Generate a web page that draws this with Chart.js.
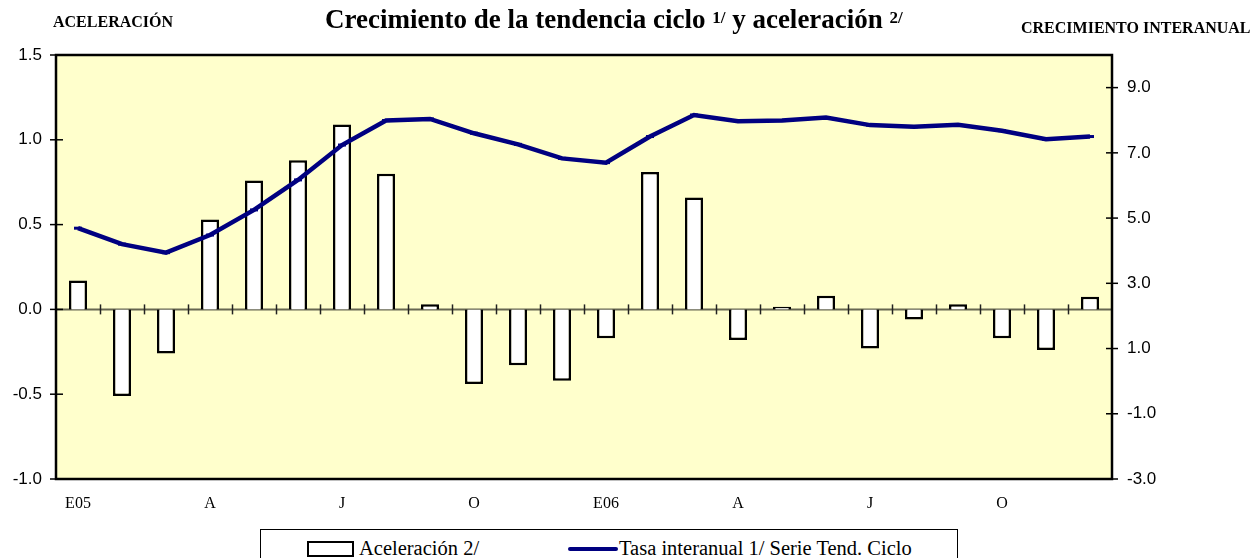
<!DOCTYPE html>
<html lang="es">
<head>
<meta charset="UTF-8">
<title>Crecimiento de la tendencia ciclo y aceleración</title>
<script src="https://cdn.jsdelivr.net/npm/chart.js"></script>
<style>
    body { margin: 0; background: #fff; }
    #wrap { position: relative; width: 1251px; height: 558px; overflow: hidden; font-family: "Liberation Serif", "Times New Roman", serif; }
    #grafico { position: absolute; left: 0; top: 0; }
    .lbl { position: absolute; white-space: nowrap; font-weight: bold; line-height: 1; color: #000; }
    #titulo { left: 325px; top: 6px; font-size: 27px; }
    #titulo sup { font-size: 17px; position: relative; top: -5px; vertical-align: baseline; }
    #ejeIzq { left: 53px; top: 14px; font-size: 16px; }
    #ejeDer { left: 1021px; top: 20px; font-size: 16px; }
    #leyenda { position: absolute; left: 260px; top: 529px; width: 696px; height: 45px; border: 1px solid #000; background: #fff; font-size: 20.5px; }
    .item { position: absolute; top: 8px; line-height: 1; white-space: nowrap; }
    .swBar { position: absolute; width: 43px; height: 12px; border: 2px solid #000; background: #fff; }
    .swLine { position: absolute; width: 50px; height: 4px; background: #000080; border-radius: 2px; }
</style>
</head>
<body>
<div id="wrap">
    <canvas id="grafico" width="1251" height="558"></canvas>
    <div class="lbl" id="ejeIzq">ACELERACIÓN</div>
    <div class="lbl" id="titulo">Crecimiento de la tendencia ciclo <sup>1/</sup> y aceleración <sup>2/</sup></div>
    <div class="lbl" id="ejeDer">CRECIMIENTO INTERANUAL</div>
    <div id="leyenda">
        <span class="swBar" style="left:46px; top:11px;"></span>
        <span class="item" style="left:98px;">Aceleración 2/</span>
        <span class="swLine" style="left:307px; top:17px;"></span>
        <span class="item" style="left:358px;">Tasa interanual 1/ Serie Tend. Ciclo</span>
    </div>
</div>

<script>
// meses ene-2005 a dic-2006
const meses = ["E05","F05","M05","A05","M05","J05","J05","A05","S05","O05","N05","D05",
               "E06","F06","M06","A06","M06","J06","J06","A06","S06","O06","N06","D06"];
const etiquetasX = ["E05","","","A","","","J","","","O","","",
                    "E06","","","A","","","J","","","O","",""];

// aceleracion 2/ (eje izquierdo)
const aceleracion = [0.17, -0.51, -0.26, 0.53, 0.76, 0.88, 1.09, 0.80, 0.03, -0.44, -0.33, -0.42,
                     -0.17, 0.81, 0.66, -0.18, 0.015, 0.08, -0.23, -0.06, 0.03, -0.17, -0.24, 0.075];

// tasa interanual 1/ serie tendencia ciclo (eje derecho)
const tasaInteranual = [4.69, 4.20, 3.94, 4.48, 5.25, 6.17, 7.24, 7.99, 8.04, 7.60, 7.26, 6.83,
                        6.70, 7.50, 8.16, 7.97, 7.99, 8.08, 7.85, 7.80, 7.86, 7.68, 7.42, 7.50];

const ticksIzq = [-1.0, -0.5, 0.0, 0.5, 1.0, 1.5];
const ticksDer = [-3.0, -1.0, 1.0, 3.0, 5.0, 7.0, 9.0];

const fondoYBordes = {
    id: "fondoYBordes",
    beforeDatasetsDraw(chart) {
        const { ctx, chartArea: a, scales } = chart;
        ctx.save();
        ctx.fillStyle = "#FFFFCC";
        ctx.fillRect(a.left, a.top, a.right - a.left, a.bottom - a.top);
        // linea del cero con marcas de categoria
        const y0 = scales.y.getPixelForValue(0);
        ctx.strokeStyle = "#666650";
        ctx.lineWidth = 2;
        ctx.beginPath();
        ctx.moveTo(a.left, y0);
        ctx.lineTo(a.right, y0);
        ctx.stroke();
        ctx.lineWidth = 1.5;
        ctx.strokeStyle = "#222";
        const paso = (scales.x.getPixelForValue(1) - scales.x.getPixelForValue(0));
        for (let i = 1; i < meses.length; i++) {
            const x = Math.round(scales.x.getPixelForValue(i) - paso / 2) + 0.5;
            ctx.beginPath();
            ctx.moveTo(x, y0 - 5);
            ctx.lineTo(x, y0 + 5);
            ctx.stroke();
        }
        ctx.restore();
    },
    afterDatasetsDraw(chart) {
        const { ctx, chartArea: a, scales } = chart;
        ctx.save();
        ctx.strokeStyle = "#000";
        ctx.lineWidth = 1.5;
        ticksIzq.forEach(v => {
            const y = scales.y.getPixelForValue(v);
            ctx.beginPath();
            ctx.moveTo(a.left - 6, y);
            ctx.lineTo(a.left + 7, y);
            ctx.stroke();
        });
        ticksDer.forEach(v => {
            const y = scales.y2.getPixelForValue(v);
            ctx.beginPath();
            ctx.moveTo(a.right - 6, y);
            ctx.lineTo(a.right + 6, y);
            ctx.stroke();
        });
        ctx.lineWidth = 2.5;
        ctx.strokeRect(a.left, a.top, a.right - a.left, a.bottom - a.top);
        ctx.restore();
    }
};

new Chart(document.getElementById("grafico"), {
    data: {
        labels: meses,
        datasets: [
            {
                type: "line",
                label: "Tasa interanual 1/ Serie Tend. Ciclo",
                data: tasaInteranual,
                yAxisID: "y2",
                borderColor: "#000080",
                borderWidth: 4.5,
                pointStyle: "line",
                pointRadius: 4,
                pointBorderWidth: 3,
                pointBorderColor: "#000080",
                tension: 0,
                order: 0
            },
            {
                type: "bar",
                label: "Aceleración 2/",
                data: aceleracion,
                yAxisID: "y",
                backgroundColor: "#FFFFFF",
                borderColor: "#000000",
                borderWidth: 2.5,
                categoryPercentage: 1,
                barPercentage: 0.41,
                order: 1
            }
        ]
    },
    options: {
        responsive: false,
        devicePixelRatio: 1,
        animation: false,
        layout: { padding: { top: 55, left: 0, right: 0, bottom: 0 } },
        plugins: { legend: { display: false }, title: { display: false }, tooltip: { enabled: false } },
        scales: {
            x: {
                grid: { display: false, drawTicks: false },
                border: { display: false },
                ticks: {
                    autoSkip: false, maxRotation: 0, padding: 15, color: "#000",
                    font: { family: "'Liberation Serif', 'Times New Roman', serif", size: 16 },
                    callback: (v, i) => etiquetasX[i]
                },
                afterFit: s => { s.height = 79; }
            },
            y: {
                position: "left",
                min: -1, max: 1.5,
                grid: { display: false, drawTicks: false },
                border: { display: false },
                afterBuildTicks: s => { s.ticks = ticksIzq.map(v => ({ value: v })); },
                ticks: {
                    padding: 14, color: "#000",
                    font: { family: "'Liberation Sans', Arial, sans-serif", size: 17 },
                    callback: v => v.toFixed(1)
                },
                afterFit: s => { s.width = 56; }
            },
            y2: {
                position: "right",
                min: -3, max: 10,
                grid: { display: false, drawTicks: false },
                border: { display: false },
                afterBuildTicks: s => { s.ticks = ticksDer.map(v => ({ value: v })); },
                ticks: {
                    padding: 15, color: "#000",
                    font: { family: "'Liberation Sans', Arial, sans-serif", size: 17 },
                    callback: v => v.toFixed(1)
                },
                afterFit: s => { s.width = 139; }
            }
        }
    },
    plugins: [fondoYBordes]
});
</script>
</body>
</html>
